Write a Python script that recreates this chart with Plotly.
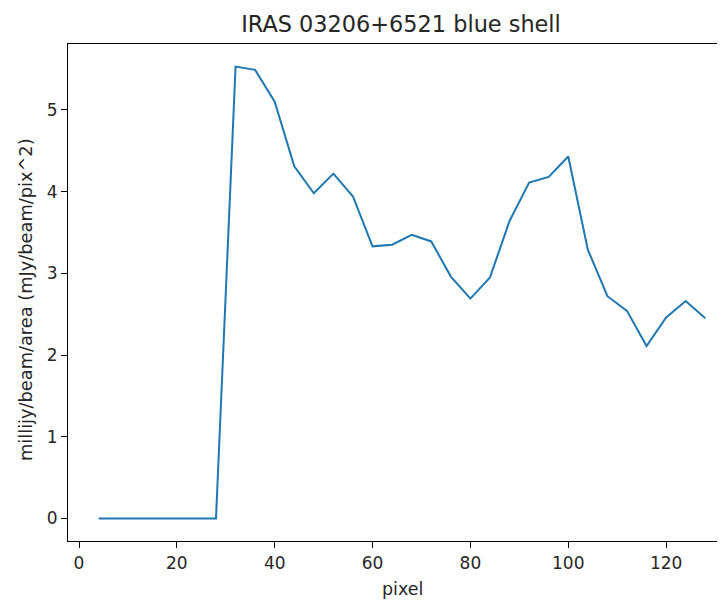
import plotly.graph_objects as go

pixel = [4, 8, 12, 16, 20, 24, 28, 32, 36, 40, 44, 48, 52, 56, 60, 64,
         68, 72, 76, 80, 84, 88, 92, 96, 100, 104, 108, 112, 116, 120, 124, 128]
flux = [0, 0, 0, 0, 0, 0, 0, 5.53, 5.49, 5.10, 4.31, 3.98, 4.22, 3.94, 3.33, 3.35,
        3.47, 3.39, 2.96, 2.69, 2.95, 3.64, 4.11, 4.18, 4.43, 3.29, 2.72, 2.54,
        2.11, 2.46, 2.66, 2.45]
x_ticks = [0, 20, 40, 60, 80, 100, 120]
y_ticks = [0, 1, 2, 3, 4, 5]

# page has an 8px body margin; figure coordinates = page coordinates - 8
W, H = 709, 593
L, R, T, B = 60, 0, 36, 60
pw, ph = W - L - R, H - T - B

fnt = "DejaVu Sans, sans-serif"
col = "#262626"

fig = go.Figure()
fig.add_trace(go.Scatter(x=pixel, y=flux, mode="lines",
                         line=dict(color="#1f77b4", width=2)))

fig.update_layout(
    width=W, height=H,
    margin=dict(l=L, r=R, t=T, b=B, autoexpand=False),
    paper_bgcolor="white", plot_bgcolor="white",
    showlegend=False,
    font=dict(family=fnt, color=col, size=17),
    title=dict(text="IRAS 03206+6521 blue shell", x=393 / W,
               xanchor="center", y=1 - 16 / H, yanchor="middle",
               yref="container", xref="container",
               font=dict(family=fnt, size=22.4, color=col)),
    xaxis=dict(range=[-2.25, 130.4], tickvals=x_ticks, ticks="outside",
               ticklen=6, tickwidth=1, tickcolor="black", showgrid=False,
               zeroline=False, showline=True, linecolor="black", linewidth=1.2,
               mirror=True, tickfont=dict(size=17, family=fnt, color=col)),
    yaxis=dict(range=[-0.2765, 5.8065], tickvals=y_ticks, ticks="outside",
               ticklen=6, tickwidth=1, tickcolor="black", showgrid=False,
               zeroline=False, showline=True, linecolor="black", linewidth=1.2,
               tickfont=dict(size=17, family=fnt, color=col)),
    annotations=[
        dict(text="pixel", x=(394 - L) / pw, y=(H - B - 581) / ph,
             xref="paper", yref="paper", showarrow=False,
             xanchor="center", yanchor="middle",
             font=dict(size=17.5, family=fnt, color=col)),
        dict(text="millijy/beam/area (mJy/beam/pix^2)", x=(17 - L) / pw,
             y=(H - B - 292) / ph, xref="paper", yref="paper",
             showarrow=False, textangle=-90, xanchor="center",
             yanchor="middle", font=dict(size=17.8, family=fnt, color=col)),
    ],
)
fig.write_html("out.html")
